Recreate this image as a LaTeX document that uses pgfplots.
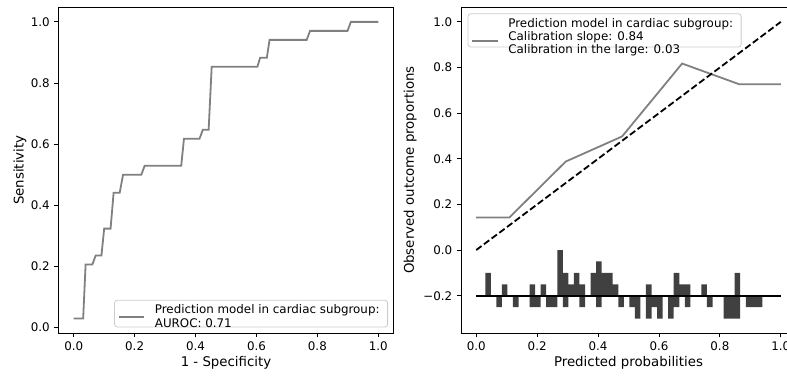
\documentclass[border=0pt]{standalone}
\usepackage{fontspec}
\setmainfont{DejaVu Sans}
\usepackage{pgfplots}
\pgfplotsset{compat=1.18}
\definecolor{lgray}{RGB}{128,128,128}
\definecolor{bargray}{RGB}{64,64,64}
\definecolor{legedge}{RGB}{204,204,204}
\newcommand{\fs}{\fontsize{8.9}{10}\selectfont}
\pgfplotsset{
  mystyle/.style={
    scale only axis, width=251.25pt, height=244.7pt,
    axis line style={black, line width=0.65pt},
    tick style={black, line width=0.65pt},
    tick align=outside, major tick length=3.1pt,
    tick pos=left,
    tick label style={font=\fs},
    label style={font=\fs},
    xmin=-0.05, xmax=1.05,
    xtick={0,0.2,0.4,0.6,0.8,1}, xticklabels={0.0,0.2,0.4,0.6,0.8,1.0},
    every axis x label/.style={at={(axis description cs:0.5,-0.091)}, anchor=center},
    legend cell align=left,
  },
  mylegend/.style={
    draw=legedge, rounded corners=2pt, fill=white, line width=0.6pt,
    inner xsep=2.6pt, inner ysep=1.6pt, column sep=3.8pt,
    font=\fs, nodes={inner xsep=3.5pt, inner ysep=1.5pt},
  },
}
\begin{document}
\begin{tikzpicture}
\useasboundingbox (0,0) rectangle (590.25pt,283.5pt);
% ROC
\begin{axis}[mystyle,
  at={(43.875pt,33.5pt)}, anchor=south west,
  ymin=-0.0191, ymax=1.0485,
  ytick={0,0.2,0.4,0.6,0.8,1}, yticklabels={0.0,0.2,0.4,0.6,0.8,1.0},
  xlabel={1 - Specificity}, ylabel={Sensitivity},
  every axis y label/.style={at={(axis description cs:-0.115,0.5)}, rotate=90, anchor=center},
  legend image code/.code={\draw[#1] (0pt,-2.8pt) -- (19pt,-2.8pt);},
  legend style={mylegend, at={(1,0)}, anchor=south east, xshift=-4.1pt, yshift=4.5pt},
]
\addplot[lgray, line width=1.35pt] coordinates {
(0,0.0294) (0.031,0.0294) (0.039,0.2059) (0.061,0.2059) (0.072,0.2353) (0.091,0.2353)
(0.100,0.3235) (0.121,0.3235) (0.131,0.4412) (0.151,0.4412) (0.162,0.5) (0.222,0.5)
(0.233,0.5294) (0.353,0.5294) (0.362,0.6176) (0.413,0.6176) (0.424,0.6471) (0.443,0.6471)
(0.453,0.8529) (0.603,0.8529) (0.612,0.8824) (0.634,0.8824) (0.643,0.9412) (0.765,0.9412)
(0.776,0.9706) (0.899,0.9706) (0.910,1.0) (1.0,1.0)};
\addlegendentry{\begin{tabular}{@{}l@{}}Prediction model in cardiac subgroup:\\AUROC: 0.71\end{tabular}}
\end{axis}
% Calibration
\begin{axis}[mystyle,
  at={(345.75pt,33.5pt)}, anchor=south west,
  ymin=-0.365, ymax=1.065,
  ytick={-0.2,0,0.2,0.4,0.6,0.8,1}, yticklabels={−0.2,0.0,0.2,0.4,0.6,0.8,1.0},
  xlabel={Predicted probabilities}, ylabel={Observed outcome proportions},
  every axis y label/.style={at={(axis description cs:-0.152,0.5)}, rotate=90, anchor=center},
  legend image code/.code={\draw[#1] (0pt,-7.8pt) -- (19pt,-7.8pt);},
  legend style={mylegend, at={(0,1)}, anchor=north west, xshift=5pt, yshift=-4.7pt},
]
\addplot[lgray, line width=1.35pt] coordinates {
(0,0.143) (0.109,0.143) (0.294,0.388) (0.479,0.498) (0.676,0.8175) (0.863,0.727) (1.0,0.727)};
\addlegendentry{\begin{tabular}{@{}l@{}}Prediction model in cardiac subgroup:\\Calibration slope: 0.84\\Calibration in the large: 0.03\end{tabular}}
\addplot[black, line width=1.35pt, dash pattern=on 5pt off 2.2pt, forget plot] coordinates {(0,0) (1,1)};
% events (above baseline)
\addplot[draw=none, fill=bargray, const plot, forget plot] coordinates {
(0.0296,-0.2) (0.0296,-0.1) (0.0478,-0.2) (0.0842,-0.15) (0.1024,-0.2) (0.1752,-0.15) (0.1934,-0.2)
(0.2116,-0.15) (0.2298,-0.2) (0.2662,0.0) (0.2844,-0.1) (0.3026,-0.15) (0.3208,-0.1) (0.3390,-0.15)
(0.3572,-0.2) (0.3754,-0.1) (0.3936,-0.05) (0.4118,-0.1) (0.4482,-0.15) (0.4664,-0.2) (0.5574,-0.15)
(0.5756,-0.2) (0.6484,-0.1) (0.6666,-0.15) (0.7030,-0.2) (0.7394,-0.15) (0.7576,-0.2) (0.8486,-0.1)
(0.8668,-0.2) (0.9396,-0.2)};
% non-events (below baseline)
\addplot[draw=none, fill=bargray, const plot, forget plot] coordinates {
(0.0296,-0.2) (0.0660,-0.25) (0.0842,-0.2) (0.1206,-0.25) (0.1388,-0.2) (0.1752,-0.25) (0.2116,-0.2)
(0.2298,-0.25) (0.2662,-0.2) (0.2844,-0.25) (0.3026,-0.2) (0.3390,-0.25) (0.3572,-0.2) (0.3936,-0.25)
(0.4118,-0.2) (0.4664,-0.25) (0.4846,-0.2) (0.5028,-0.25) (0.5210,-0.3) (0.5392,-0.2) (0.5574,-0.3)
(0.5756,-0.25) (0.5938,-0.3) (0.6120,-0.2) (0.6302,-0.3) (0.6484,-0.25) (0.6666,-0.2) (0.6848,-0.25)
(0.7030,-0.2) (0.7576,-0.25) (0.7758,-0.2) (0.8122,-0.3) (0.8668,-0.2) (0.8850,-0.25) (0.9396,-0.2)};
\addplot[black, line width=1.35pt, forget plot] coordinates {(0,-0.2) (1,-0.2)};
\end{axis}
\end{tikzpicture}
\end{document}
